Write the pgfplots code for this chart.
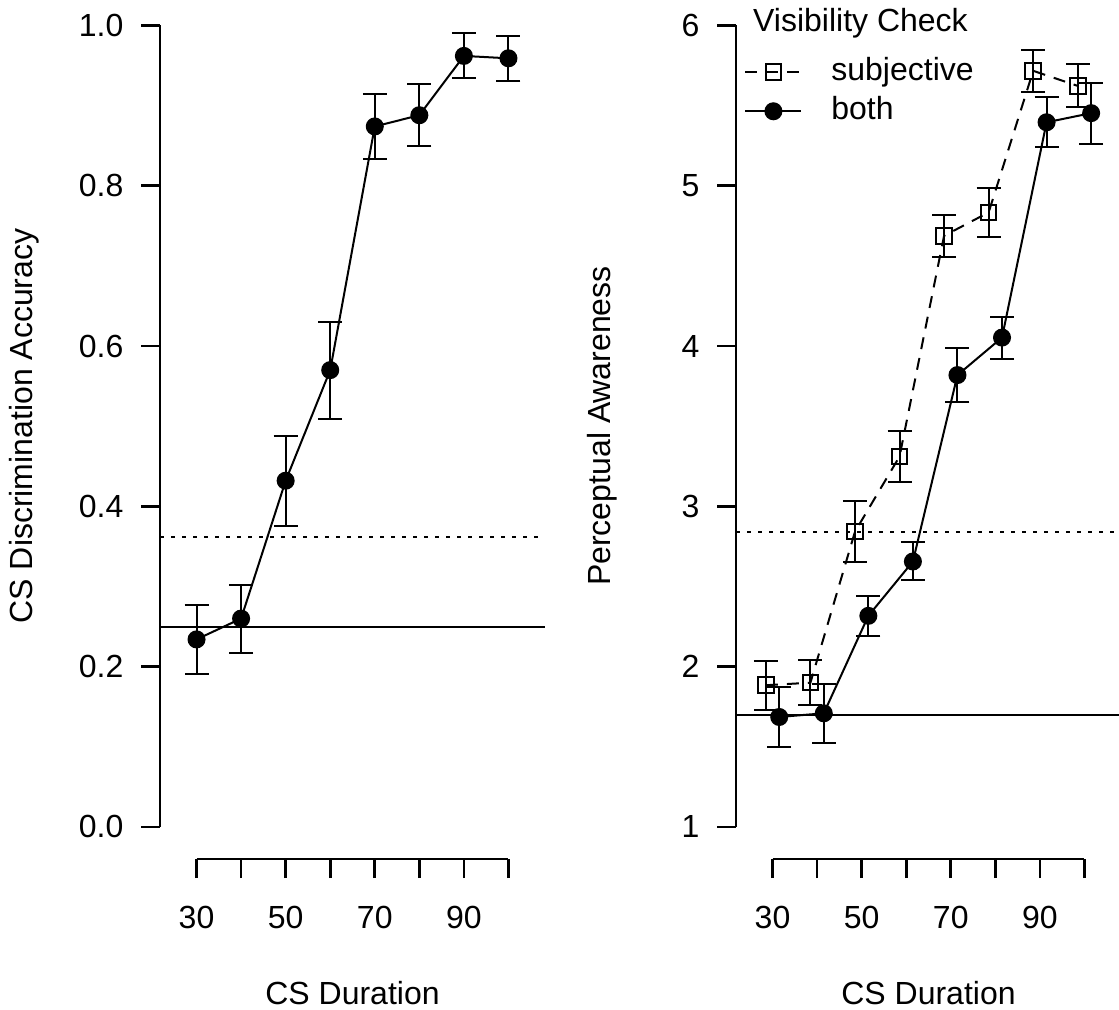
\documentclass[border=0pt]{standalone}
\usepackage{fontspec}
\setmainfont{Liberation Sans}
\usepackage{pgfplots}
\pgfplotsset{compat=1.18}
\usepackage{pgfplotstable}

\pgfplotstableread{
x y ep em
30 0.234 0.043 0.043
40 0.260 0.042 0.043
50 0.432 0.056 0.056
60 0.570 0.060 0.061
70 0.874 0.040 0.040
80 0.888 0.039 0.038
90 0.962 0.028 0.027
100 0.959 0.028 0.028
}\acc

\pgfplotstableread{
x y ep em
28.5 1.884 0.154 0.154
38.5 1.900 0.144 0.141
48.5 2.842 0.194 0.192
58.5 3.311 0.158 0.161
68.5 4.688 0.129 0.135
78.5 4.834 0.154 0.155
88.5 5.717 0.129 0.131
98.5 5.623 0.138 0.133
}\subj

\pgfplotstableread{
x y ep em
31.5 1.686 0.189 0.186
41.5 1.709 0.181 0.186
51.5 2.317 0.125 0.125
61.5 2.656 0.119 0.116
71.5 3.819 0.167 0.165
81.5 4.053 0.128 0.132
91.5 5.396 0.158 0.154
101.5 5.453 0.191 0.193
}\both

\begin{document}
\begin{tikzpicture}[x=0.5pt,y=0.5pt,font=\fontsize{16pt}{19pt}\selectfont]
\useasboundingbox (0,0) rectangle (1119,1009);
\pgfplotsset{
  rstyle/.style={
    scale only axis, width=192.5pt, height=432.8pt,
    anchor=south west, clip=false,
    xmin=21.8, xmax=108.2,
    axis line style={draw=none},
    tick align=outside, major tick length=9.5pt,
    tick style={black, line width=1.3pt},
    xtick pos=bottom, ytick pos=left,
    xtick={30,40,...,100}, xticklabels={30,,50,,70,,90,},
    xticklabel shift=10.5pt, yticklabel shift=5.3pt,
    tick label style={font=\fontsize{16pt}{19pt}\selectfont},
    /pgf/number format/assume math mode=true,
    every axis plot/.append style={line width=1pt, black},
    error bars/error bar style={line width=1pt, solid},
    error bars/error mark options={line width=1pt, mark size=6pt, solid, rotate=90},
  }
}
\begin{axis}[rstyle, at={(80pt,75pt)}, ymin=-0.04, ymax=1.04,
  ytick={0,0.2,0.4,0.6,0.8,1.0}, yticklabels={0.0,0.2,0.4,0.6,0.8,1.0}]
\draw[line width=1.3pt] (axis cs:30,-0.04) -- (axis cs:100,-0.04);
\draw[line width=1.3pt] (axis cs:21.8,0) -- (axis cs:21.8,1);
\addplot[no marks, line width=1pt, forget plot] coordinates {(21.8,0.25) (108.2,0.25)};
\addplot[no marks, line width=1pt, dash pattern=on 2pt off 3.5pt, forget plot] coordinates {(21.8,0.362) (108.2,0.362)};
\addplot[mark=*, mark size=4pt, mark options={fill=black},
  error bars/.cd, y dir=both, y explicit]
  table[x=x, y=y, y error plus=ep, y error minus=em] {\acc};
\end{axis}

\begin{axis}[rstyle, at={(368pt,75pt)}, ymin=0.8, ymax=6.2,
  ytick={1,2,3,4,5,6},
  legend style={at={(axis description cs:0.0208,0.929)}, anchor=north west,
    draw=none, fill=none, inner sep=0pt, row sep=2.5pt, column sep=13.5pt,
    nodes={inner sep=1pt, text height=11.5pt, text depth=3.5pt},
    font=\fontsize{16pt}{19pt}\selectfont},
  legend cell align=left,
  legend image code/.code={\draw[mark repeat=2, mark phase=2, #1] plot coordinates {(0pt,0pt) (14pt,0pt) (28pt,0pt)};}]
\draw[line width=1.3pt] (axis cs:30,0.8) -- (axis cs:100,0.8);
\draw[line width=1.3pt] (axis cs:21.8,1) -- (axis cs:21.8,6);
\addplot[no marks, line width=1pt, forget plot] coordinates {(21.8,1.70) (108.2,1.70)};
\addplot[no marks, line width=1pt, dash pattern=on 2pt off 3.5pt, forget plot] coordinates {(21.8,2.84) (108.2,2.84)};
\addplot[mark=square, mark size=3.9pt, dash pattern=on 6pt off 4.5pt, mark options={solid},
  error bars/.cd, y dir=both, y explicit]
  table[x=x, y=y, y error plus=ep, y error minus=em] {\subj};
\addlegendentry{subjective}
\addplot[mark=*, mark size=4pt, mark options={fill=black, solid},
  error bars/.cd, y dir=both, y explicit]
  table[x=x, y=y, y error plus=ep, y error minus=em] {\both};
\addlegendentry{both}
\end{axis}

\node[rotate=90, anchor=base] at (33,583) {CS Discrimination Accuracy};
\node[rotate=90, anchor=base] at (610,583) {Perceptual Awareness};
\node[anchor=base] at (352.5,5) {CS Duration};
\node[anchor=base] at (928.5,5) {CS Duration};
\node[anchor=base] at (860.5,977) {Visibility Check};
\end{tikzpicture}
\end{document}
